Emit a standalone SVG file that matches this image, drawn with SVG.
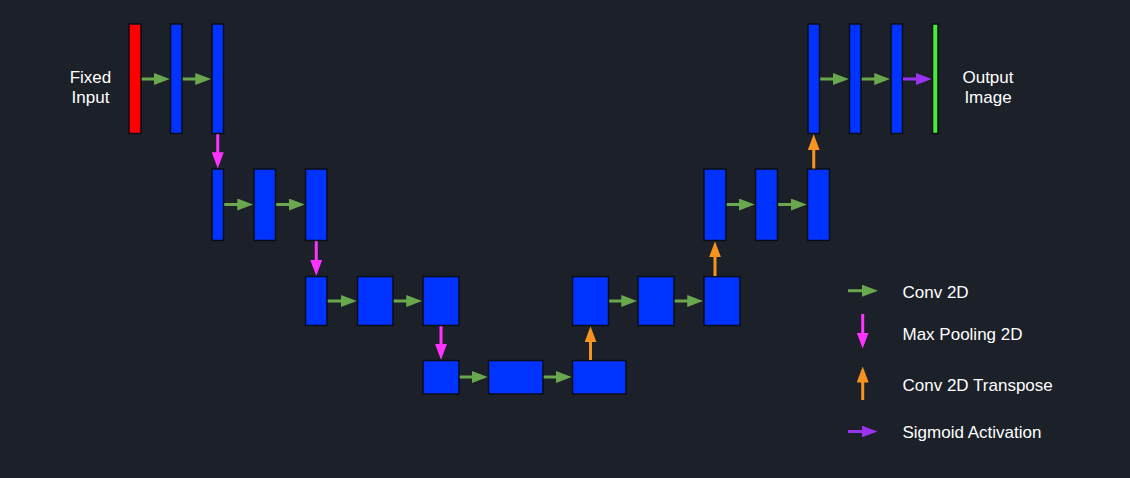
<svg xmlns="http://www.w3.org/2000/svg" width="1130" height="478" viewBox="0 0 1130 478">
<defs>
<style>
.b{fill:#0033ff;stroke:#0a0d14;stroke-width:1.5}
.t{font-family:"Liberation Sans",Arial,sans-serif;font-size:17px;fill:#ffffff}
.c{stroke:#6aa84f;stroke-width:3;fill:none;marker-end:url(#mg)}
.p{stroke:#ff33ff;stroke-width:3;fill:none;marker-end:url(#mp)}
.o{stroke:#f7931e;stroke-width:3;fill:none;marker-end:url(#mo)}
.s{stroke:#9933ee;stroke-width:3;fill:none;marker-end:url(#ms)}
</style>
<marker id="mg" markerUnits="userSpaceOnUse" markerWidth="16" markerHeight="12" refX="8" refY="6" orient="auto"><path d="M0,0L16,6L0,12z" fill="#6aa84f"/></marker>
<marker id="mp" markerUnits="userSpaceOnUse" markerWidth="16" markerHeight="12" refX="8" refY="6" orient="auto"><path d="M0,0L16,6L0,12z" fill="#ff33ff"/></marker>
<marker id="mo" markerUnits="userSpaceOnUse" markerWidth="16" markerHeight="12" refX="8" refY="6" orient="auto"><path d="M0,0L16,6L0,12z" fill="#f7931e"/></marker>
<marker id="ms" markerUnits="userSpaceOnUse" markerWidth="16" markerHeight="12" refX="8" refY="6" orient="auto"><path d="M0,0L16,6L0,12z" fill="#9933ee"/></marker>
</defs>
<rect width="1130" height="478" fill="#1c2029"/>
<g id="labels">
<text class="t" x="90.5" y="83" text-anchor="middle">Fixed</text>
<text class="t" x="90.5" y="103" text-anchor="middle">Input</text>
<text class="t" x="988" y="83" text-anchor="middle">Output</text>
<text class="t" x="988" y="103" text-anchor="middle">Image</text>
</g>
<g id="nodes">
<g id="in"><rect x="129" y="24" width="12" height="109.5" fill="#ff0000" stroke="#0a0d14" stroke-width="1.5"/></g>
<g id="e1a"><rect class="b" x="170.5" y="24" width="11.5" height="109.5"/></g>
<g id="e1b"><rect class="b" x="212" y="24" width="11.5" height="109.5"/></g>
<g id="d1a"><rect class="b" x="808" y="24" width="11.5" height="109.5"/></g>
<g id="d1b"><rect class="b" x="849.5" y="24" width="11.5" height="109.5"/></g>
<g id="d1c"><rect class="b" x="891" y="24" width="11.5" height="109.5"/></g>
<g id="out"><rect x="932.5" y="24" width="5.5" height="109.5" fill="#44ee33" stroke="#0a0d14" stroke-width="1.5"/></g>
<g id="e2a"><rect class="b" x="212" y="169" width="11.5" height="71.5"/></g>
<g id="e2b"><rect class="b" x="254" y="169" width="21.5" height="71.5"/></g>
<g id="e2c"><rect class="b" x="305.5" y="169" width="21.5" height="71.5"/></g>
<g id="d2a"><rect class="b" x="704" y="169" width="22" height="71.5"/></g>
<g id="d2b"><rect class="b" x="755.5" y="169" width="22" height="71.5"/></g>
<g id="d2c"><rect class="b" x="807.5" y="169" width="22" height="71.5"/></g>
<g id="e3a"><rect class="b" x="305.5" y="276.5" width="21.5" height="49"/></g>
<g id="e3b"><rect class="b" x="357.5" y="276.5" width="35.5" height="49"/></g>
<g id="e3c"><rect class="b" x="423" y="276.5" width="36" height="49"/></g>
<g id="d3a"><rect class="b" x="572.5" y="276.5" width="36" height="49"/></g>
<g id="d3b"><rect class="b" x="638" y="276.5" width="36" height="49"/></g>
<g id="d3c"><rect class="b" x="704" y="276.5" width="36" height="49"/></g>
<g id="b4a"><rect class="b" x="423" y="360.5" width="36" height="33.5"/></g>
<g id="b4b"><rect class="b" x="488.5" y="360.5" width="54.5" height="33.5"/></g>
<g id="b4c"><rect class="b" x="572.5" y="360.5" width="53.5" height="33.5"/></g>
</g>
<g id="connectors">
<line class="c" x1="141.75" y1="79" x2="161.75" y2="79"/>
<line class="c" x1="182.75" y1="79" x2="203.25" y2="79"/>
<line class="c" x1="820.25" y1="79" x2="840.75" y2="79"/>
<line class="c" x1="861.75" y1="79" x2="882.25" y2="79"/>
<line class="s" x1="903" y1="79" x2="923.75" y2="79"/>
<line class="c" x1="224.25" y1="204.5" x2="245.25" y2="204.5"/>
<line class="c" x1="276.25" y1="204.5" x2="296.75" y2="204.5"/>
<line class="c" x1="726.75" y1="204.5" x2="746.75" y2="204.5"/>
<line class="c" x1="778.25" y1="204.5" x2="798.75" y2="204.5"/>
<line class="c" x1="327.75" y1="301" x2="348.75" y2="301"/>
<line class="c" x1="393.75" y1="301" x2="414.25" y2="301"/>
<line class="c" x1="609.25" y1="301" x2="629.25" y2="301"/>
<line class="c" x1="674.75" y1="301" x2="695.25" y2="301"/>
<line class="c" x1="459.75" y1="377" x2="479.75" y2="377"/>
<line class="c" x1="543.75" y1="377" x2="563.75" y2="377"/>
<line class="p" x1="217.75" y1="134.25" x2="217.75" y2="160.25"/>
<line class="p" x1="316.25" y1="241.25" x2="316.25" y2="267.75"/>
<line class="p" x1="441" y1="326.25" x2="441" y2="351.75"/>
<line class="o" x1="590.5" y1="360" x2="590.5" y2="334.25"/>
<line class="o" x1="715" y1="276" x2="715" y2="249.25"/>
<line class="o" x1="813.75" y1="168.5" x2="813.75" y2="142.25"/>
</g>
<g id="legend">
<line class="c" x1="848" y1="290.7" x2="870" y2="290.7"/>
<text class="t" x="902.5" y="297.5">Conv 2D</text>
<line class="p" x1="862.7" y1="314" x2="862.7" y2="340.5"/>
<text class="t" x="902.5" y="340">Max Pooling 2D</text>
<line class="o" x1="862.7" y1="400" x2="862.7" y2="374.5"/>
<text class="t" x="902.5" y="390.5">Conv 2D Transpose</text>
<line class="s" x1="848" y1="431.5" x2="869.5" y2="431.5"/>
<text class="t" x="902.5" y="437.5">Sigmoid Activation</text>
</g>
</svg>
